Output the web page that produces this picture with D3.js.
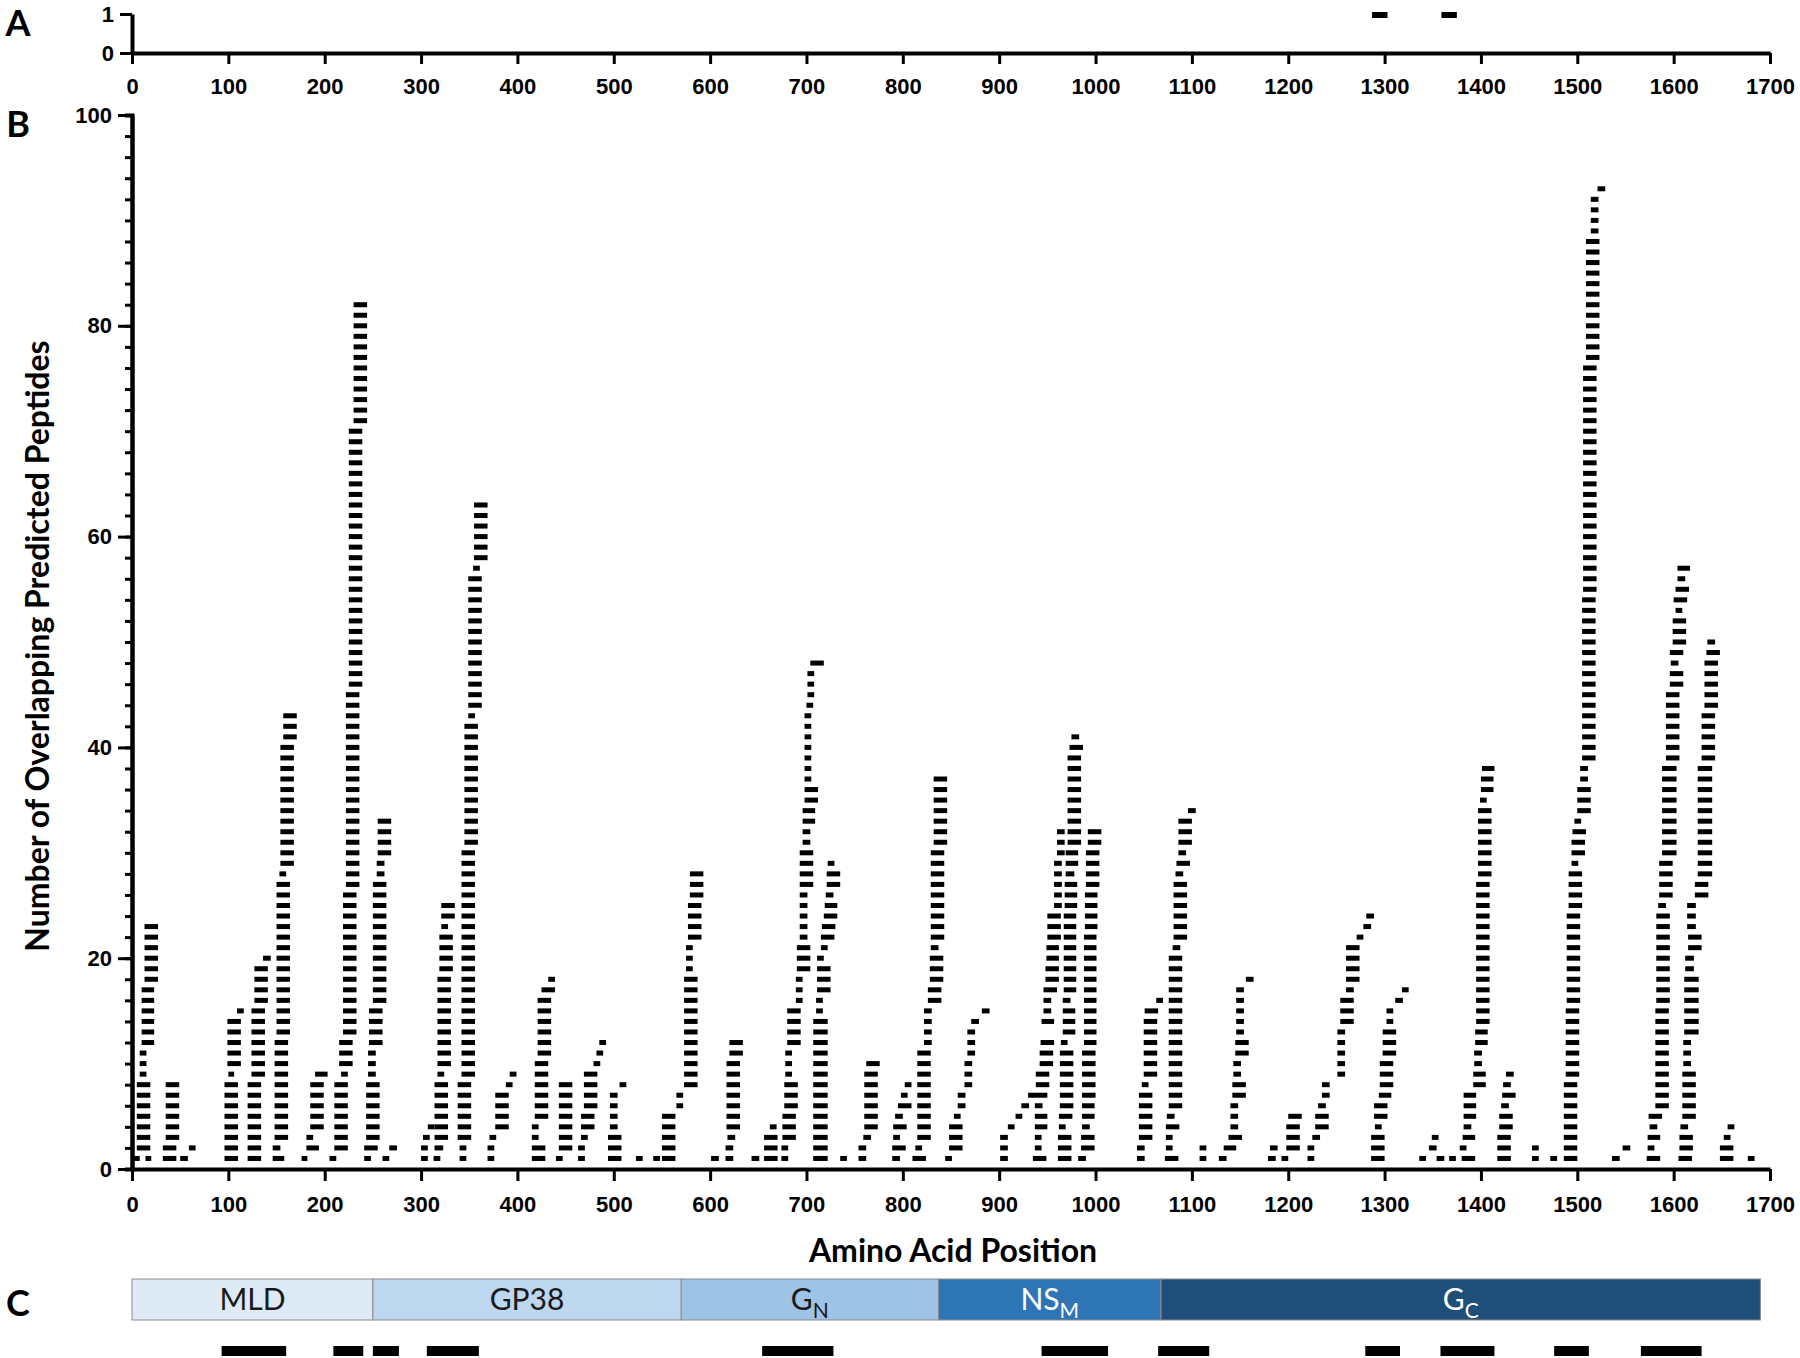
<!DOCTYPE html>
<html>
<head>
<meta charset="utf-8">
<script src="https://cdn.jsdelivr.net/npm/d3@7"></script>
<style>
  body { margin: 0; background: #fff; }
  svg { display: block; }
  .tick text { font-family: "Liberation Sans Narrow", "Arial Narrow", "Liberation Sans", sans-serif; font-weight: 700; font-size: 22px; fill: #000; }
</style>
</head>
<body>
<div id="chart"></div>
<script>
// panel A: peptides predicted for the whole set (start, length)
const panelAPeptides = [[1287, 16], [1359, 16]];

// panel B: runs of stacked peptides [start aa, from level, to level, length aa]
const peptideRuns = [
  [2,1,1,6],[14,1,1,6],[5,2,8,14],[8,9,11,7],[10,12,17,13],[13,18,23,14],
  [32,1,2,14],[50,1,1,8],[59,2,2,7],[35,3,8,14],
  [96,1,8,14],[100,9,9,6],[99,10,14,14],[109,15,15,7],
  [120,1,8,14],[124,9,15,14],[127,16,19,14],[136,20,20,8],
  [146,1,1,12],[146,2,2,8],[148,3,12,14],[150,13,27,14],[153,28,28,7],[154,29,40,14],[157,41,43,14],
  [176,1,1,6],[181,2,2,13],[181,3,3,7],[185,4,8,14],[190,9,9,13],
  [205,1,1,7],[210,2,8,14],[217,9,9,7],[215,10,12,14],[219,13,26,14],[222,27,45,14],[225,46,70,14],[230,71,82,14],
  [241,1,1,7],[260,1,1,7],[241,2,2,14],[267,2,2,8],[243,3,8,14],[245,9,11,8],[246,12,15,14],[250,16,27,14],[254,28,29,8],[255,30,33,14],
  [300,1,2,7],[302,3,3,7],[307,4,4,7],
  [313,1,1,7],[314,2,2,9],[314,3,8,14],[317,9,9,7],[317,10,18,14],[319,19,22,14],[321,23,23,7],[321,24,25,14],
  [340,1,2,7],[338,3,8,14],[342,9,30,14],[345,31,42,14],[349,43,43,7],[349,44,56,14],[354,57,57,7],[355,58,63,14],
  [369,1,2,7],[371,3,3,7],[377,4,7,14],[388,8,8,7],[392,9,9,7],
  [415,1,2,14],[415,3,4,7],[418,5,10,14],[421,11,16,14],[425,17,17,14],[432,18,18,7],
  [440,1,1,7],[443,2,8,14],
  [463,1,2,7],[466,3,3,7],[466,4,5,14],[469,6,9,14],[479,10,10,7],[482,11,11,7],[485,12,12,7],
  [494,1,3,14],[496,4,7,8],[506,8,8,7],
  [523,1,1,7],[541,1,1,7],
  [550,1,5,14],[565,6,7,7],[573,8,18,14],[575,19,21,7],[577,22,25,14],[579,26,28,14],
  [601,1,1,8],[616,1,2,8],[618,3,3,8],[617,4,10,14],[620,11,12,14],
  [643,1,1,8],[656,1,3,14],[662,4,4,7],
  [674,1,2,7],[675,3,5,14],[677,6,8,14],[678,9,11,7],[680,12,15,14],[689,16,18,7],[690,19,21,14],[693,22,26,8],
  [693,27,30,14],[696,31,32,8],[696,33,34,13],[698,35,36,14],[698,37,43,7],[700,44,44,7],[701,45,47,7],[704,48,48,14],
  [707,1,14,15],[710,15,16,7],[711,17,19,14],[711,20,20,7],[715,21,21,7],[715,22,22,14],[716,23,23,14],[718,24,24,14],
  [719,25,25,13],[720,26,26,8],[721,27,28,14],[722,29,29,7],
  [735,1,1,7],
  [754,1,2,8],[759,3,3,8],[760,4,9,14],[762,10,10,14],
  [789,1,1,8],[789,2,2,14],[790,3,3,7],[790,4,4,14],[792,5,5,8],[795,6,6,14],[798,7,7,7],[802,8,8,7],
  [810,1,1,14],[813,2,2,7],[815,3,11,14],[822,12,15,8],[826,16,17,14],[828,18,20,14],[829,21,21,8],[829,22,30,14],[832,31,37,14],
  [844,1,1,7],[848,2,4,14],[853,5,5,7],[857,6,7,8],[864,8,10,8],[867,11,13,8],[871,14,14,8],[882,15,15,8],
  [901,1,3,8],[909,4,4,7],[917,5,5,7],[923,6,6,8],
  [935,1,1,14],[937,2,3,7],[937,4,5,13],[937,6,6,8],[930,7,7,20],[938,8,9,14],[942,10,11,14],[943,12,12,14],
  [944,14,14,13],[946,15,16,8],[946,17,17,14],[948,18,19,14],[949,20,21,13],[950,22,24,14],[957,25,29,8],[960,30,32,8],
  [961,1,3,14],[962,4,4,7],[962,5,5,14],[963,6,11,14],[964,12,12,7],[966,13,15,13],[966,16,16,8],[967,17,24,13],
  [968,25,27,13],[969,28,28,9],[969,29,30,13],[971,31,39,14],[973,40,40,14],[975,41,41,8],
  [982,1,1,8],[985,2,3,14],[986,4,4,8],[986,5,6,13],[986,7,11,14],[988,12,22,13],[989,23,26,13],[990,27,30,14],[992,31,32,14],
  [1043,1,2,8],[1045,3,7,14],[1048,8,8,7],[1050,9,14,14],[1051,15,15,14],[1063,16,16,7],
  [1072,1,1,14],[1073,2,3,7],[1073,4,4,14],[1074,5,5,8],[1076,6,20,14],[1080,21,21,8],[1081,22,27,14],[1083,28,28,8],
  [1084,29,29,14],[1086,30,30,8],[1086,31,33,14],[1096,34,34,8],
  [1108,1,2,7],
  [1128,1,1,8],[1133,2,2,13],[1138,3,3,14],[1140,4,6,8],[1142,7,8,14],[1143,9,10,8],[1145,11,12,14],[1146,13,17,8],[1156,18,18,8],
  [1179,1,1,8],[1181,2,2,8],
  [1193,1,1,7],[1198,2,4,14],[1200,5,5,14],
  [1220,1,2,7],[1225,3,3,8],[1228,4,5,14],[1231,6,6,8],[1235,7,8,8],[1251,9,13,8],[1254,14,16,14],[1260,17,17,8],
  [1260,18,21,14],[1271,22,22,7],[1278,23,23,8],[1281,24,24,8],
  [1286,1,3,14],[1290,4,4,7],[1289,5,6,14],[1294,7,7,13],[1295,8,10,14],[1298,11,13,14],[1302,14,15,7],[1311,16,16,8],[1318,17,17,7],
  [1336,1,1,7],[1346,2,2,8],[1349,3,3,7],[1354,1,1,8],[1367,1,1,7],
  [1380,1,1,14],[1378,2,2,7],[1381,3,3,13],[1382,4,4,8],[1382,5,7,13],[1392,8,9,13],[1393,10,11,8],[1394,12,13,13],
  [1395,14,27,14],[1397,28,34,14],[1399,35,35,7],[1400,36,37,13],[1401,38,38,13],
  [1417,1,3,14],[1419,4,5,14],[1421,6,6,8],[1422,7,7,14],[1423,8,8,8],[1426,9,9,8],
  [1453,1,2,7],[1472,1,1,7],
  [1486,1,8,14],[1488,9,15,14],[1489,16,24,14],[1491,25,28,14],[1494,29,29,7],[1494,30,31,14],[1495,32,32,14],[1497,33,33,7],
  [1500,34,36,14],[1503,37,38,8],[1505,39,54,14],[1506,55,76,14],[1509,77,88,14],[1514,89,92,8],[1521,93,93,8],
  [1536,1,1,8],[1547,2,2,8],
  [1572,1,1,14],[1573,2,2,7],[1573,3,3,13],[1575,4,4,8],[1574,5,5,14],[1581,6,15,14],[1582,16,24,14],[1584,25,25,8],
  [1585,26,29,14],[1588,30,38,15],[1592,39,45,14],[1596,46,47,14],[1597,48,48,8],[1596,49,49,14],[1599,50,52,14],
  [1602,53,53,7],[1600,54,54,14],[1602,55,55,14],[1604,56,56,8],[1604,57,57,13],
  [1605,1,1,14],[1606,2,3,14],[1607,4,4,8],[1609,5,9,14],[1610,10,12,8],[1611,13,18,15],[1612,19,20,9],[1615,21,22,14],
  [1614,23,25,9],[1622,26,27,14],[1625,28,38,15],[1629,39,43,14],[1632,44,48,14],[1634,49,49,14],[1635,50,50,8],
  [1648,1,2,14],[1652,3,3,7],[1656,4,4,7],
  [1677,1,1,7]
];

// panel C: protein domains
const domainNames = ["MLD", "GP38", "G", "NS", "G"];
const domainSubs = ["", "", "N", "M", "C"];
const domainStarts = [0, 250, 570, 837, 1068];
const domainEnds = [250, 570, 837, 1068, 1690];
const domainColors = ["#deebf7", "#bdd7ee", "#9dc3e6", "#2e75b6", "#1f4e79"];
const domainTextColors = ["#1a1a1a", "#1a1a1a", "#1a1a1a", "#ffffff", "#ffffff"];

// panel C: epitope regions (start, end)
const epitopeRegions = [
  [93, 160], [209, 240], [250, 277], [306, 360], [654, 728], [944, 1013],
  [1065, 1118], [1280, 1316], [1358, 1414], [1476, 1512], [1566, 1629]
];

const xTicks = d3.range(0, 1701, 100);
const fmt = d3.format("d");

const width = 1800, height = 1358;
const svg = d3.select("#chart").append("svg")
    .attr("width", width)
    .attr("height", height)
    .style("background", "#fff");

const x = d3.scaleLinear().domain([0, 1700]).range([132, 1770]);
const yA = d3.scaleLinear().domain([0, 1]).range([53, 14]);
const yB = d3.scaleLinear().domain([0, 100]).range([1169, 115]);

function styleAxis(g, w) {
  g.select(".domain").attr("stroke", "#000").attr("stroke-width", w);
  g.selectAll(".tick line").attr("stroke", "#000").attr("stroke-width", 3);
}

// ---------- panel A ----------
svg.append("g")
    .attr("transform", `translate(0,${yA(0)})`)
    .call(d3.axisBottom(x).tickValues(xTicks).tickFormat(fmt).tickSize(11).tickSizeOuter(0).tickPadding(14))
    .call(g => styleAxis(g, 4));

svg.append("g")
    .attr("transform", `translate(${x(0)},0)`)
    .call(d3.axisLeft(yA).tickValues([0, 1]).tickFormat(fmt).tickSize(12).tickSizeOuter(0).tickPadding(6))
    .call(g => styleAxis(g, 4));

svg.append("g")
  .selectAll("rect")
  .data(panelAPeptides)
  .join("rect")
    .attr("x", d => x(d[0]))
    .attr("width", d => x(d[0] + d[1]) - x(d[0]))
    .attr("y", yA(1) - 2)
    .attr("height", 6)
    .attr("fill", "#000");

// ---------- panel B ----------
const dashes = peptideRuns.flatMap(([s, a, b, len]) =>
  d3.range(a, b + 1).map(level => ({start: s, len, level})));

svg.append("g")
  .selectAll("rect")
  .data(dashes)
  .join("rect")
    .attr("x", d => x(d.start))
    .attr("width", d => x(d.start + d.len) - x(d.start))
    .attr("y", d => yB(d.level) - 2.5)
    .attr("height", 5)
    .attr("fill", "#000");

svg.append("g")
    .attr("transform", `translate(${x(0)},0)`)
    .call(d3.axisLeft(yB).tickValues(d3.range(0, 101, 2)).tickSize(7).tickFormat(""))
    .call(g => styleAxis(g, 4));

svg.append("g")
    .attr("transform", `translate(${x(0)},0)`)
    .call(d3.axisLeft(yB).tickValues(d3.range(0, 101, 20)).tickFormat(fmt).tickSize(14).tickSizeOuter(0).tickPadding(6))
    .call(g => styleAxis(g, 4));

svg.append("g")
    .attr("transform", `translate(0,${yB(0)})`)
    .call(d3.axisBottom(x).tickValues(xTicks).tickFormat(fmt).tickSize(12).tickSizeOuter(0).tickPadding(15))
    .call(g => styleAxis(g, 4));

svg.append("text")
    .attr("x", 953)
    .attr("y", 1262)
    .attr("text-anchor", "middle")
    .attr("font-family", "Lato, 'Open Sans', sans-serif")
    .attr("font-weight", 700)
    .attr("font-size", 32)
    .text("Amino Acid Position");

svg.append("text")
    .attr("transform", "translate(49,646) rotate(-90)")
    .attr("text-anchor", "middle")
    .attr("font-family", "Lato, 'Open Sans', sans-serif")
    .attr("font-weight", 700)
    .attr("font-size", 32)
    .text("Number of Overlapping Predicted Peptides");

// ---------- panel C ----------
const domains = domainNames.map((name, i) => ({
  name, sub: domainSubs[i], start: domainStarts[i], end: domainEnds[i],
  color: domainColors[i], text: domainTextColors[i]
}));

const dom = svg.append("g");
dom.selectAll("rect")
  .data(domains)
  .join("rect")
    .attr("x", d => x(d.start))
    .attr("width", d => x(d.end) - x(d.start))
    .attr("y", 1279)
    .attr("height", 41)
    .attr("fill", d => d.color)
    .attr("stroke", "#8c8c8c")
    .attr("stroke-width", 1);

const labels = dom.selectAll("text")
  .data(domains)
  .join("text")
    .attr("x", d => (x(d.start) + x(d.end)) / 2)
    .attr("y", 1310)
    .attr("text-anchor", "middle")
    .attr("font-family", "Lato, 'Open Sans', sans-serif")
    .attr("font-size", 30)
    .attr("fill", d => d.text);
labels.append("tspan").text(d => d.name);
labels.filter(d => d.sub)
  .append("tspan")
    .attr("font-size", 21)
    .attr("dy", 8)
    .text(d => d.sub);

svg.append("g")
  .selectAll("rect")
  .data(epitopeRegions)
  .join("rect")
    .attr("x", d => x(d[0]))
    .attr("width", d => x(d[1]) - x(d[0]))
    .attr("y", 1346)
    .attr("height", 10)
    .attr("fill", "#000");

// panel letters
const letters = [["A", 36], ["B", 137], ["C", 1316]];
svg.append("g")
  .selectAll("text")
  .data(letters)
  .join("text")
    .attr("x", 18)
    .attr("y", d => d[1])
    .attr("text-anchor", "middle")
    .attr("font-family", "Lato, 'Open Sans', sans-serif")
    .attr("font-weight", 700)
    .attr("font-size", 36)
    .text(d => d[0]);
</script>
</body>
</html>
